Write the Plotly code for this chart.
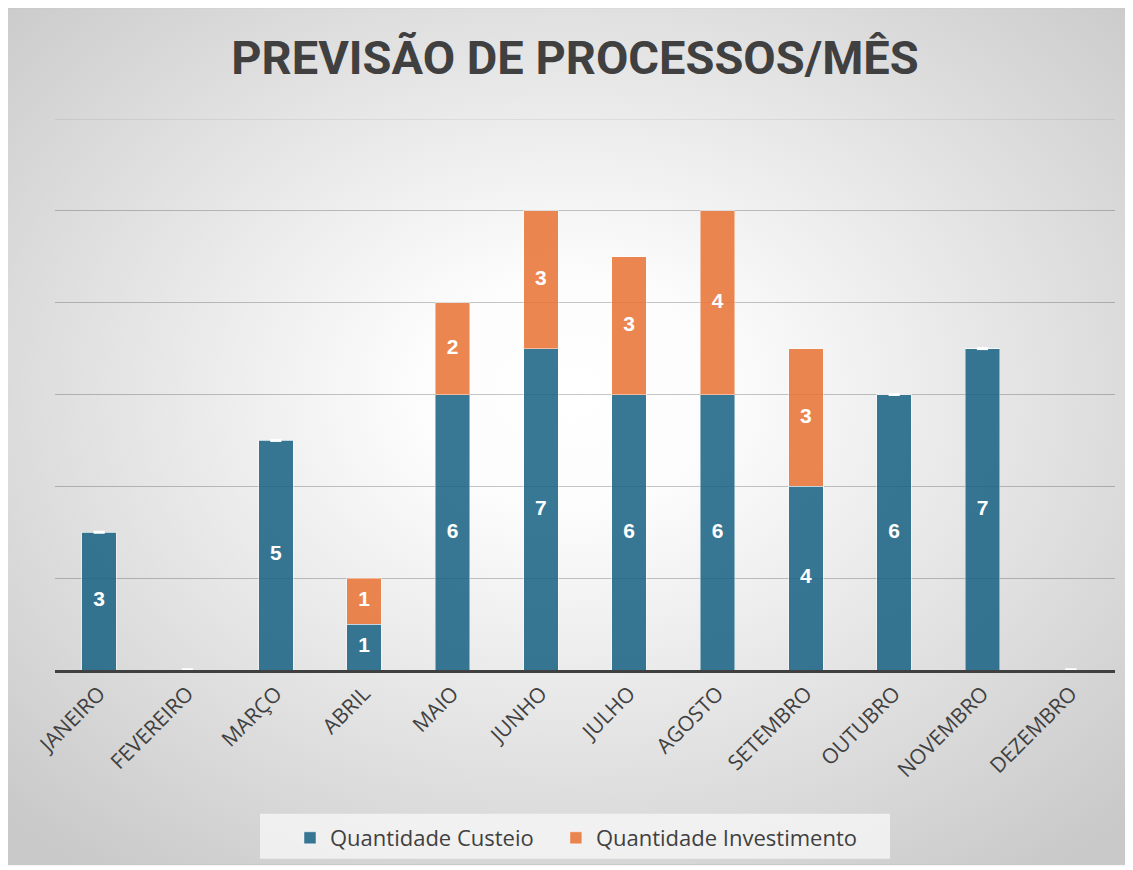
import base64
import plotly.graph_objects as go

months = ["JANEIRO", "FEVEREIRO", "MARÇO", "ABRIL", "MAIO", "JUNHO", "JULHO",
          "AGOSTO", "SETEMBRO", "OUTUBRO", "NOVEMBRO", "DEZEMBRO"]
custeio = [3, 0, 5, 1, 6, 7, 6, 6, 4, 6, 7, 0]
investimento = [0, 0, 0, 1, 2, 3, 3, 4, 3, 0, 0, 0]
y_max = 12

# figure is placed at page offset (8, 8) by the default body margin
OFF = 8
W, H = 1125, 862
L = 55 - OFF
R = W - (1115 - OFF)
T = 119 - OFF
B = H - (671 - OFF)
PW, PH = W - L - R, H - T - B

blue = "rgba(21,96,130,0.85)"
orange = "rgba(233,113,50,0.85)"

fig = go.Figure()
fig.add_trace(go.Bar(x=months, y=custeio, name="Quantidade Custeio\u00a0\u00a0\u00a0",
                     marker=dict(color=blue, line=dict(color="rgba(255,255,255,0.45)", width=1))))
fig.add_trace(go.Bar(x=months, y=investimento, name="Quantidade Investimento",
                     marker=dict(color=orange, line=dict(color="rgba(255,255,255,0.45)", width=1))))

# data labels (non-zero values)
lx, ly, lt = [], [], []
# zero-value markers ("-")
zx, zy = [], []
for m, c, i in zip(months, custeio, investimento):
    if c:
        lx.append(m); ly.append(c / 2); lt.append(str(c))
    else:
        zx.append(m); zy.append(0)
    if i:
        lx.append(m); ly.append(c + i / 2); lt.append(str(i))
    else:
        zx.append(m); zy.append(c)

fig.add_trace(go.Scatter(x=lx, y=ly, text=lt, mode="text", showlegend=False,
                         textposition="middle center", cliponaxis=False, hoverinfo="skip",
                         textfont=dict(color="white", size=21, family="Liberation Sans", weight="bold")))
fig.add_trace(go.Scatter(x=zx, y=zy, mode="markers", showlegend=False, cliponaxis=False,
                         hoverinfo="skip",
                         marker=dict(symbol="line-ew", size=8, color="white",
                                     line=dict(color="white", width=3))))

svg = ('<svg xmlns="http://www.w3.org/2000/svg" width="1123" height="859">'
       '<defs><radialGradient id="g" cx="50%" cy="45%" r="70%">'
       '<stop offset="0" stop-color="#ffffff"/><stop offset="0.2" stop-color="#fcfcfc"/>'
       '<stop offset="1" stop-color="#c9c9c9"/></radialGradient></defs>'
       '<rect width="100%" height="100%" fill="url(#g)"/></svg>')
src = "data:image/svg+xml;base64," + base64.b64encode(svg.encode()).decode()


def px(xp):
    return (xp - OFF - L) / PW


def py(yp):
    return (H - B - (yp - OFF)) / PH


fig.add_layout_image(dict(source=src, xref="paper", yref="paper", x=px(7), y=py(7),
                          sizex=1123 / PW, sizey=859 / PH, xanchor="left", yanchor="top",
                          sizing="stretch", layer="below"))

fig.add_shape(type="rect", xref="paper", yref="paper", x0=px(7.5), x1=px(1130), y0=py(7.5), y1=py(866),
              line=dict(color="#c4c4c4", width=1), fillcolor="rgba(0,0,0,0)", layer="below")
fig.add_shape(type="rect", xref="paper", yref="paper", x0=px(260), x1=px(890), y0=py(815), y1=py(860),
              line=dict(width=0), fillcolor="rgba(248,248,248,0.75)", layer="below")
# top gridline at the axis maximum
fig.add_shape(type="line", xref="paper", yref="y", x0=0, x1=1, y0=y_max, y1=y_max,
              line=dict(color="rgba(0,0,0,0.13)", width=1), layer="below")

fig.update_layout(
    width=W, height=H,
    margin=dict(l=L, r=R, t=T, b=B),
    barmode="stack", bargap=0.61,
    paper_bgcolor="white", plot_bgcolor="rgba(0,0,0,0)",
    title=dict(text="PREVISÃO DE PROCESSOS/MÊS", x=px(575), xref="paper", xanchor="center",
               y=1 - (58 - OFF) / H, yanchor="middle",
               font=dict(family="Roboto", size=47, color="#404040", weight="bold")),
    xaxis=dict(showline=True, linecolor="#404040", linewidth=3, ticks="", tickangle=-45,
               range=[-0.5, 11.5],
               tickfont=dict(family="Open Sans", size=21, color="#404040"), showgrid=False),
    yaxis=dict(range=[0, y_max], dtick=2, showticklabels=False, showline=False, zeroline=False,
               gridcolor="rgba(0,0,0,0.22)", gridwidth=1),
    legend=dict(orientation="h", x=px(576), xanchor="center", y=py(838), yanchor="middle",
                bgcolor="rgba(0,0,0,0)", font=dict(family="Open Sans", size=22, color="#404040"),
                traceorder="normal"),
    showlegend=True,
)

fig.write_html("out.html")
